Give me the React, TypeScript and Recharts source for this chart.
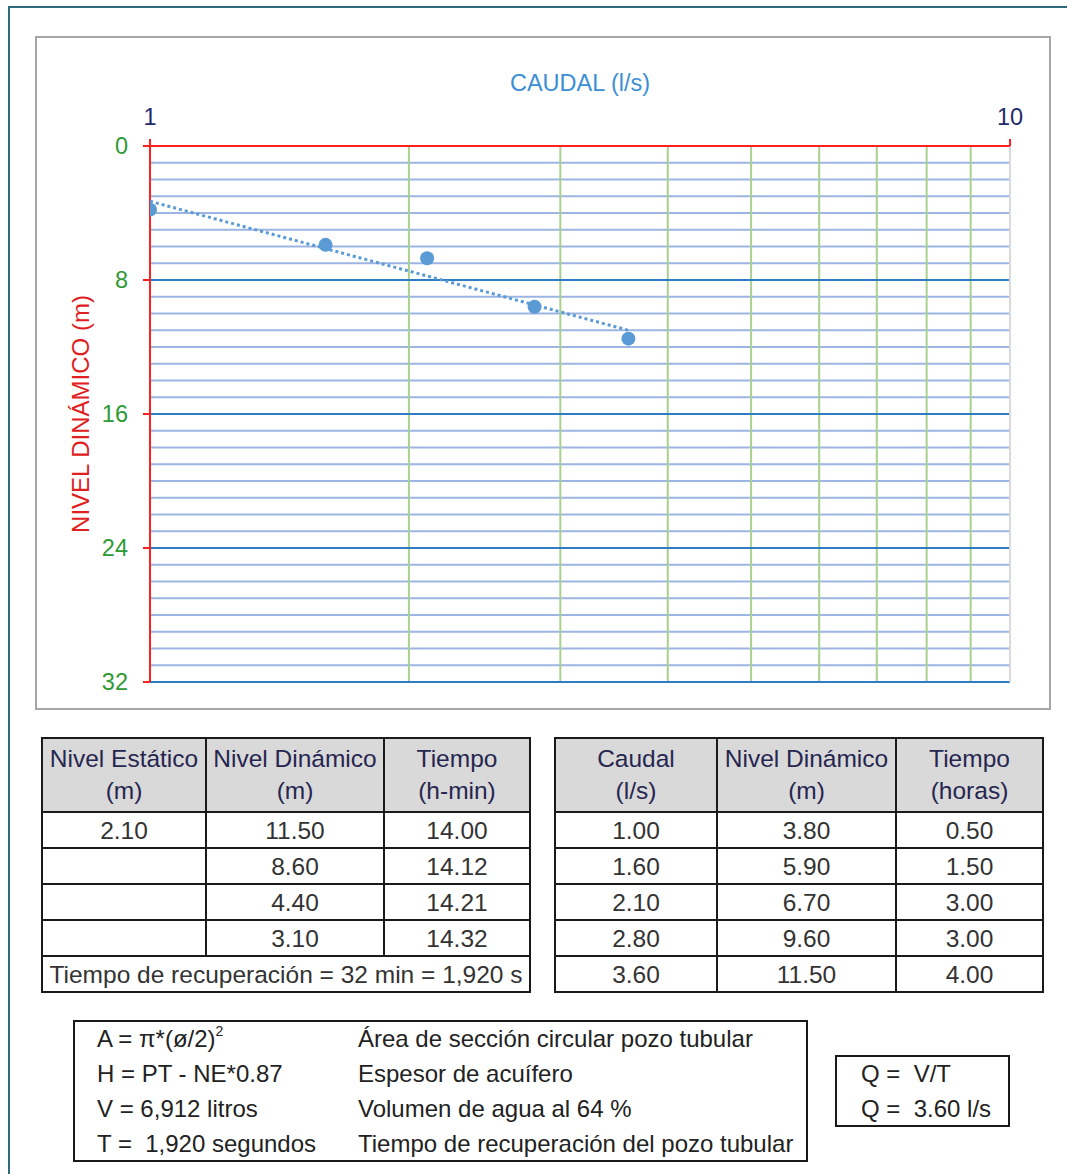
import React from 'react';
import { ScatterChart, Scatter, XAxis, YAxis, ReferenceLine } from 'recharts';

// ---- data ----
const flows = [1.0, 1.6, 2.1, 2.8, 3.6];
const dynLevels = [3.8, 5.9, 6.7, 9.6, 11.5];
const hours = [0.5, 1.5, 3.0, 3.0, 4.0];
const trendFlows = [1.0, 3.6];
const trendLevels = [3.3, 11.0];
const staticLevel = 2.1;
const recoveryLevels = [11.5, 8.6, 4.4, 3.1];
const recoveryTimes = [14.0, 14.12, 14.21, 14.32];
const xTicks = [1, 10];
const yTicks = [0, 8, 16, 24, 32];
const gridFlows = [2, 3, 4, 5, 6, 7, 8, 9];
const minorDepths = [1,2,3,4,5,6,7,9,10,11,12,13,14,15,17,18,19,20,21,22,23,25,26,27,28,29,30,31];
const majorDepths = [8, 16, 24, 32];

const points = flows.map((x, i) => ({ x, y: dynLevels[i] }));
const trend = trendFlows.map((x, i) => ({ x, y: trendLevels[i] }));

const FONT = '"Liberation Sans", Arial, sans-serif';
const cellBorder = '2px solid #1a1a1a';

function Dot(p: any) {
  return <circle cx={p.cx} cy={p.cy} r={7} fill="#5b9bd5" />;
}
function NoDot() {
  return <g />;
}

function Cell({ children, head, colSpan, w }: any) {
  return (
    <td
      colSpan={colSpan}
      style={{
        border: cellBorder,
        background: head ? '#d9d9d9' : '#fff',
        color: head ? '#262650' : '#333',
        textAlign: 'center',
        padding: 0,
        width: w,
        lineHeight: head ? '32px' : '33px',
        whiteSpace: 'nowrap',
        overflow: 'visible',
      }}
    >
      {children}
    </td>
  );
}

const tableStyle: React.CSSProperties = {
  position: 'absolute',
  borderCollapse: 'collapse',
  fontFamily: FONT,
  fontSize: 24.5,
  tableLayout: 'fixed',
};

export default function App() {
  return (
    <div style={{ position: 'absolute', left: 0, top: 0, width: 1067, height: 1174, overflow: 'hidden', background: '#fff', fontFamily: FONT }}>
      <div style={{ position: 'absolute', left: 8, top: 6, right: -10, bottom: -10, borderTop: '2px solid #2f6b7a', borderLeft: '2px solid #2f6b7a' }} />
      <div style={{ position: 'absolute', left: 35, top: 36, width: 1012, height: 670, border: '2px solid #a6a6a6' }} />
      <div style={{ position: 'absolute', left: 35, top: 36 }}>
        <ScatterChart width={1016} height={674} margin={{ top: 70, right: 41, bottom: 28, left: 55 }}>
          <XAxis
            type="number"
            dataKey="x"
            scale="log"
            domain={[1, 10]}
            ticks={xTicks}
            orientation="top"
            height={40}
            allowDataOverflow
            axisLine={{ stroke: '#ff2020', strokeWidth: 2 }}
            tickLine={{ stroke: '#ff2020', strokeWidth: 2 }}
            tickSize={7}
            tickMargin={14}
            tick={{ fill: '#1f2a6b', fontSize: 23.5, fontFamily: FONT }}
            label={{ value: 'CAUDAL (l/s)', position: 'top', offset: 15, fill: '#3b8fd4', fontSize: 23.5, fontFamily: FONT }}
          />
          <YAxis
            type="number"
            dataKey="y"
            domain={[0, 32]}
            reversed
            ticks={yTicks}
            width={60}
            allowDataOverflow
            axisLine={{ stroke: '#ff2020', strokeWidth: 2 }}
            tickLine={{ stroke: '#ff2020', strokeWidth: 2 }}
            tickSize={7}
            tickMargin={15}
            tick={{ fill: '#2e9a35', fontSize: 23.5, fontFamily: FONT }}
            label={{ value: 'NIVEL DINÁMICO (m)', angle: -90, position: 'insideLeft', offset: -10, fill: '#e02020', fontSize: 24, fontFamily: FONT, style: { textAnchor: 'middle' } }}
          />
          {minorDepths.map((d) => (
            <ReferenceLine key={'mi' + d} y={d} stroke="#9db5e2" strokeWidth={2} />
          ))}
          {gridFlows.map((f) => (
            <ReferenceLine key={'v' + f} x={f} stroke="#a9d18e" strokeWidth={2} />
          ))}
          {majorDepths.map((d) => (
            <ReferenceLine key={'ma' + d} y={d} stroke="#2e7dc4" strokeWidth={2} />
          ))}
          <ReferenceLine x={10} stroke="#d9d9d9" strokeWidth={2} />
          <Scatter data={trend} isAnimationActive={false} shape={NoDot} line={{ stroke: '#5b9bd5', strokeWidth: 3, strokeDasharray: '3 3' }} />
          <Scatter data={points} isAnimationActive={false} shape={Dot} />
        </ScatterChart>
      </div>

      <table style={{ ...tableStyle, left: 41, top: 737, width: 482 }}>
        <tbody>
          <tr style={{ height: 74 }}>
            <Cell head w={162}>Nivel Estático<br />(m)</Cell>
            <Cell head w={176}>Nivel Dinámico<br />(m)</Cell>
            <Cell head w={144}>Tiempo<br />(h-min)</Cell>
          </tr>
          {recoveryLevels.map((lv, i) => (
            <tr key={i} style={{ height: 36 }}>
              <Cell>{i === 0 ? staticLevel.toFixed(2) : ''}</Cell>
              <Cell>{lv.toFixed(2)}</Cell>
              <Cell>{recoveryTimes[i].toFixed(2)}</Cell>
            </tr>
          ))}
          <tr style={{ height: 36 }}>
            <Cell colSpan={3}>Tiempo de recuperación = 32 min = 1,920 s</Cell>
          </tr>
        </tbody>
      </table>

      <table style={{ ...tableStyle, left: 554, top: 737, width: 482 }}>
        <tbody>
          <tr style={{ height: 74 }}>
            <Cell head w={160}>Caudal<br />(l/s)</Cell>
            <Cell head w={177}>Nivel Dinámico<br />(m)</Cell>
            <Cell head w={145}>Tiempo<br />(horas)</Cell>
          </tr>
          {flows.map((q, i) => (
            <tr key={i} style={{ height: 36 }}>
              <Cell>{q.toFixed(2)}</Cell>
              <Cell>{dynLevels[i].toFixed(2)}</Cell>
              <Cell>{hours[i].toFixed(2)}</Cell>
            </tr>
          ))}
        </tbody>
      </table>

      <div style={{ position: 'absolute', left: 73, top: 1020, width: 731, height: 138, border: '2px solid #1a1a1a', fontSize: 24, color: '#222' }}>
        {[
          ['A = π*(ø/2)', 'Área de sección circular pozo tubular'],
          ['H = PT - NE*0.87', 'Espesor de acuífero'],
          ['V = 6,912 litros', 'Volumen de agua al 64 %'],
          ['T =  1,920 segundos', 'Tiempo de recuperación del pozo tubular'],
        ].map((r, i) => (
          <div key={i} style={{ position: 'absolute', top: 1 + i * 35, left: 22, height: 32, lineHeight: '32px', whiteSpace: 'pre' }}>
            {r[0]}{i === 0 ? <span style={{ fontSize: 14, position: 'relative', top: -11, lineHeight: 0 }}>2</span> : null}
            <span style={{ position: 'absolute', left: 261, top: 0, whiteSpace: 'pre' }}>{r[1]}</span>
          </div>
        ))}
      </div>

      <div style={{ position: 'absolute', left: 835, top: 1055, width: 171, height: 68, border: '2px solid #1a1a1a', fontSize: 24, color: '#222' }}>
        <div style={{ position: 'absolute', left: 24, top: 1, lineHeight: '32px', whiteSpace: 'pre' }}>Q =  V/T</div>
        <div style={{ position: 'absolute', left: 24, top: 36, lineHeight: '32px', whiteSpace: 'pre' }}>Q =  3.60 l/s</div>
      </div>
    </div>
  );
}
